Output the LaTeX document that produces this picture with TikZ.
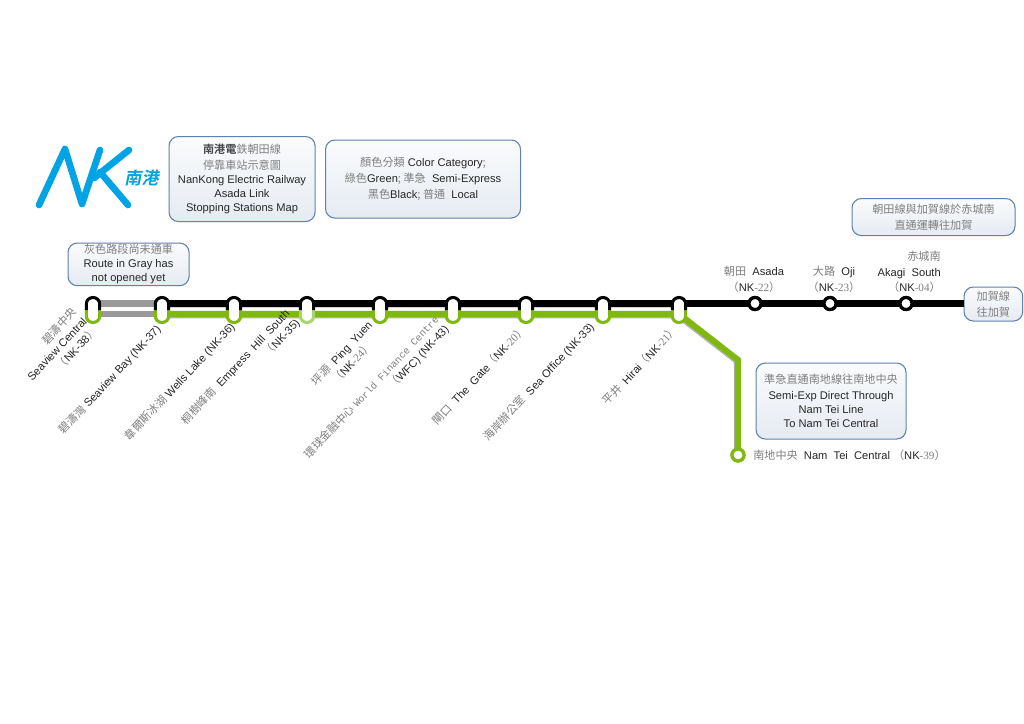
\documentclass[tikz,border=0pt]{standalone}
\usepackage{fontspec}
\setmainfont{Liberation Sans}
\newfontfamily\cjkfont{Noto Sans CJK TC}
\newfontfamily\cjkbold{Noto Sans CJK TC Bold}[FakeSlant=0.2]
\newfontfamily\latinserif{Liberation Serif}
\newfontfamily\latinmono{Liberation Mono}
\definecolor{ink}{HTML}{262626}
\definecolor{soft}{HTML}{7F7F7F}
\definecolor{semi}{HTML}{7FB80E}
\definecolor{semilight}{HTML}{A9D66C}
\definecolor{nkblue}{HTML}{00A3E4}
\definecolor{frame}{HTML}{5F82AE}
\newcommand{\zh}[1]{{\cjkfont\color{soft}#1}}
\newcommand{\sr}[1]{{\latinserif\color{soft}#1}}
\tikzset{
  x=0.75pt, y=-0.75pt,
  every node/.style={font=\fontsize{8.35}{10.5}\selectfont, text=ink, inner sep=0pt},
  notebox/.style={draw=frame, line width=0.8pt, rounded corners=7pt,
    top color=white!97!frame, bottom color=frame!16, align=center, anchor=north west},
  tilted/.style={rotate=47, align=center},
  tiltedr/.style={rotate=47, align=right},
  localrun/.style={draw=black, line width=5.2pt},
  semirun/.style={draw=semi, line width=4.6pt},
  closedrun/.style={draw=black!40, line width=5pt},
  edgeshade/.style={draw=black!30, line width=4.6pt},
  stopblack/.style={circle, draw=black, fill=white, line width=2.4pt, minimum size=9pt},
  stopgreen/.style={circle, draw=semi, fill=white, line width=2.4pt, minimum size=9pt},
  logostroke/.style={draw=nkblue, line width=5pt, line cap=round, line join=round},
}
% Reference points of a capsule station: name, x position
\newcommand{\capsule}[2]{%
  \coordinate (b#1) at (#2,303.5);
  \coordinate (g#1) at (#2,314);
}
% Capsule outline: x position, colour of the lower half
\newcommand{\capsuledraw}[2]{%
  \fill[white, rounded corners=4.9pt] (#1-6.7,297.5) rectangle (#1+6.7,322.5);
  \draw[#2, line width=2.3pt, rounded corners=4.9pt] (#1-6.7,310) -- (#1-6.7,322.5) -- (#1+6.7,322.5) -- (#1+6.7,310);
  \draw[black, line width=2.3pt, rounded corners=4.9pt] (#1-6.7,310) -- (#1-6.7,297.5) -- (#1+6.7,297.5) -- (#1+6.7,310);
}
\begin{document}
\begin{tikzpicture}
\useasboundingbox (0,0) rectangle (1024,724);
\fill[white] (0,0) rectangle (1024,724);

% Station reference points
\capsule{38}{93}
\capsule{37}{162}
\capsule{36}{234}
\capsule{35}{307}
\capsule{24}{380}
\capsule{43}{453}
\capsule{20}{526}
\capsule{33}{603}
\capsule{21}{679}
\coordinate (bend) at (738,360);

% Notes
\node[notebox, minimum width=109.5pt, minimum height=63.75pt] (title) at (168.5,136)
  {{\cjkbold\color{ink!85}\addfontfeature{FakeSlant=0}南港電}\zh{鉄朝田線}\\[1pt]\zh{停靠車站示意圖}\\NanKong Electric Railway\\Asada Link\\Stopping Stations Map};
\node[notebox, minimum width=146.25pt, minimum height=58.5pt] (colours) at (325,139.5)
  {\zh{顏色分類} Color Category\zh{;}\\[1.5pt]\zh{綠色}Green\zh{; 準急}\ \ Semi-Express\\[1.5pt]\zh{黑色}Black\zh{; 普通}\ \ Local};
\node[notebox, minimum width=90.75pt, minimum height=32pt] (unopened) at (67.5,242.5)
  {\zh{灰色路段尚未通車}\\Route in Gray has\\not opened yet};
\node[notebox, minimum width=122.25pt, minimum height=27.75pt] (through) at (851.5,198)
  {\zh{朝田線與加賀線於赤城南}\\[1.5pt]\zh{直通運轉往加賀}};
\node[notebox, minimum width=112.5pt, minimum height=57pt] (nantei) at (755.5,362.5)
  {\zh{準急直通南地線往南地中央}\\[1.5pt]Semi-Exp Direct Through\\Nam Tei Line\\To Nam Tei Central};
\node[notebox, minimum width=44pt, minimum height=25.5pt] (kaga) at (963.5,286.5)
  {\zh{加賀線}\\[1.5pt]\zh{往加賀}};

% Soft edges beneath the lines
\draw[edgeshade, draw=black!18] ([shift={(0,1.2)}]b37) -- ([shift={(0,1.2)}]b21);
\draw[edgeshade] ([shift={(-1.2,1.2)}]g37) -- ([shift={(-1.2,1.2)}]g21) -- ([shift={(-1.2,0.8)}]bend) -- (737,455);

% Unopened section
\draw[closedrun] (b38) -- (b37);
\draw[closedrun] (g38) -- (g37);

% Local service
\node[stopblack] (s22) at (755,303.5) {};
\node[stopblack] (s23) at (830,303.5) {};
\node[stopblack] (s04) at (906,303.5) {};
\draw[localrun] (b37) -- (b21) -- (s22.center) -- (s23.center) -- (s04.center) -- (s04.center -| kaga.west);
\node[stopblack] at (s22) {};
\node[stopblack] at (s23) {};
\node[stopblack] at (s04) {};

% Semi-express service and branch
\node[stopgreen] (s39) at (738,455) {};
\draw[semirun, line join=miter] (g37) -- (g21) -- (bend) -- (s39.center);
\node[stopgreen] at (s39) {};

% Capsule stations
\capsuledraw{93}{semi}
\capsuledraw{162}{semi}
\capsuledraw{234}{semi}
\capsuledraw{307}{semilight}
\capsuledraw{380}{semi}
\capsuledraw{453}{semi}
\capsuledraw{526}{semi}
\capsuledraw{603}{semi}
\capsuledraw{679}{semi}

% Tilted station names
\node[tiltedr] (n38) at (57,349) {\zh{碧濤中央}\\Seaview Central\\\zh{（}NK-38\zh{）}};
\node[tilted] (n37) at (110,380) {\zh{碧濤灣} Seaview Bay (NK-37)};
\node[tilted] (n36) at (180,382) {\zh{韋爾斯冰湖} Wells Lake (NK-36)};
\node[tiltedr] (n35) at (241,372) {\zh{桐樹峰南}\ \ Empress\ \ Hill\ \ South\\\zh{（}NK-35)};
\node[tilted] (n24) at (347,358) {\zh{坪源}\ \ Ping\ \ Yuen\\\zh{（}NK\sr{-24}\zh{）}};
\node[tiltedr] (n43) at (377,392) {\zh{環球金融中心} {\fontsize{7.5}{10.5}\selectfont\latinmono\color{soft}World Finance Centre}\\\zh{（}WFC) (NK-43)};
\node[tilted] (n20) at (479,375) {\zh{閘口}\ \ The\ \ Gate\zh{（}NK\sr{-20}\zh{）}};
\node[tilted] (n33) at (539,382) {\zh{海岸辦公室}\ \ Sea Office (NK-33)};
\node[tilted] (n21) at (640,365) {\zh{平井}\ \ Hirai\zh{（}NK\sr{-21}\zh{）}};

% Upright station names
\node[align=center] (n22) at (754,279.5) {\zh{朝田}\ \ Asada\\[1pt]\zh{（}NK\sr{-22}\zh{）}};
\node[align=center] (n23) at (834,279.5) {\zh{大路}\ \ Oji\\[1pt]\zh{（}NK\sr{-23}\zh{）}};
\node[align=right, anchor=east] (n04) at (941,272) {\zh{赤城南}\\[1pt]Akagi\ \ South\\[1pt]\zh{（}NK\sr{-04}\zh{）}};
\node[anchor=west] (n39) at (753,455) {\zh{南地中央}\ \ Nam\ \ Tei\ \ Central\ \zh{（}NK\sr{-39}\zh{）}};

% Company mark
\draw[logostroke] (39,205) -- (65,149) -- (82,204) -- (100,150);
\draw[logostroke] (129,150) -- (94,178);
\draw[logostroke] (100,172) -- (128,205);
\node[font=\fontsize{12.8}{14}\selectfont, text=nkblue] (mark) at (141.5,178) {\cjkbold 南港};
\end{tikzpicture}
\end{document}
